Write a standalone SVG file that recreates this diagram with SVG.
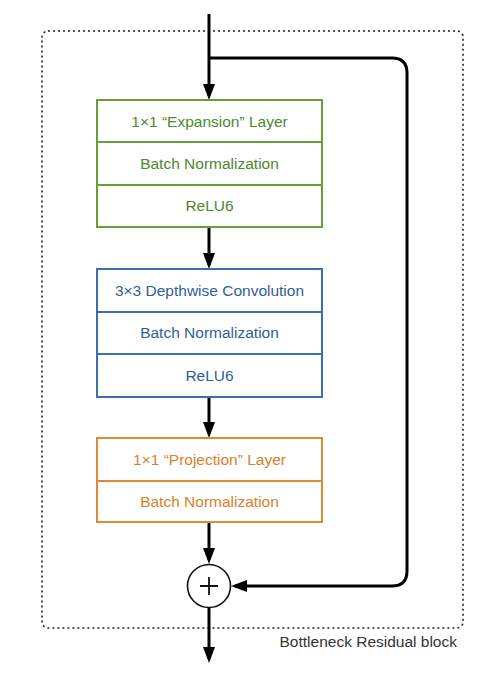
<svg xmlns="http://www.w3.org/2000/svg" width="496" height="682" viewBox="0 0 496 682">
<defs>
<marker id="ah" viewBox="0 0 16 12" refX="12" refY="6" markerWidth="5.33" markerHeight="4" markerUnits="strokeWidth" orient="auto">
<path d="M0,0 L16,6 L0,12 Z" fill="#000"/>
</marker>
<style>
text{font-family:"Liberation Sans",Arial,Helvetica,sans-serif;font-size:15.5px;text-anchor:middle}
.g rect,.g line{stroke:#6a9e3c;stroke-width:2;fill:#fff}
.g text{fill:#4d8a2d}
.b rect,.b line{stroke:#3f6fa8;stroke-width:2;fill:#fff}
.b text{fill:#2f5f98}
.o rect,.o line{stroke:#e08a35;stroke-width:2;fill:#fff}
.o text{fill:#d98128}
.w{stroke:#000;stroke-width:3;fill:none}
</style>
</defs>
<rect x="42" y="31" width="421" height="597" rx="6" fill="none" stroke="#222" stroke-width="1.6" stroke-dasharray="2,3"/>
<text x="457" y="647" style="text-anchor:end;fill:#333">Bottleneck Residual block</text>
<g id="connectors">
<path class="w" d="M209,14 V96" marker-end="url(#ah)"/>
<path class="w" d="M209,58 H392 Q407,58 407,73 V571 Q407,586 392,586 H235" marker-end="url(#ah)"/>
<path class="w" d="M209,227 V265" marker-end="url(#ah)"/>
<path class="w" d="M209,397 V434" marker-end="url(#ah)"/>
<path class="w" d="M209,522 V560" marker-end="url(#ah)"/>
<path class="w" d="M209,608 V659" marker-end="url(#ah)"/>
</g>
<g id="expansion" class="g">
<rect x="97" y="100" width="225" height="127"/>
<line x1="97" y1="142" x2="322" y2="142"/>
<line x1="97" y1="185" x2="322" y2="185"/>
<text x="209.5" y="127">1×1 “Expansion” Layer</text>
<text x="209.5" y="169">Batch Normalization</text>
<text x="209.5" y="211">ReLU6</text>
</g>
<g id="depthwise" class="b">
<rect x="97" y="269" width="225" height="128"/>
<line x1="97" y1="312" x2="322" y2="312"/>
<line x1="97" y1="354" x2="322" y2="354"/>
<text x="209.5" y="296">3×3 Depthwise Convolution</text>
<text x="209.5" y="338">Batch Normalization</text>
<text x="209.5" y="381">ReLU6</text>
</g>
<g id="projection" class="o">
<rect x="97" y="438" width="225" height="84"/>
<line x1="97" y1="481" x2="322" y2="481"/>
<text x="209.5" y="465">1×1 “Projection” Layer</text>
<text x="209.5" y="507">Batch Normalization</text>
</g>
<g id="add">
<circle cx="209" cy="586" r="21.5" fill="#fff" stroke="#111" stroke-width="1.6"/>
<path d="M200,586 H218 M209,577 V595" stroke="#111" stroke-width="1.8"/>
</g>
</svg>
